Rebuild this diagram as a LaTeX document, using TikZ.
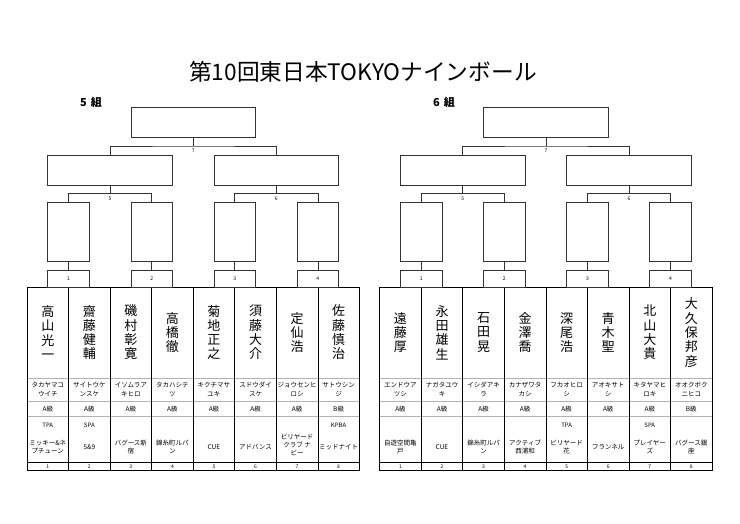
\documentclass[tikz,border=0pt]{standalone}
\usepackage{fontspec}
\setmainfont{Noto Sans CJK JP}
\begin{document}
\begin{tikzpicture}[x=1pt,y=-1pt,
  conn/.style={draw=black!80,line width=0.7pt},
  boxA/.style={draw=black!80,line width=0.7pt,inner sep=0pt,minimum width=124.65pt,minimum height=30pt},
  boxB/.style={draw=black!80,line width=0.7pt,inner sep=0pt,minimum width=41.55pt,minimum height=59.4pt},
  numbox/.style={draw=black!80,line width=0.7pt,inner sep=0pt,minimum width=41.55pt,minimum height=17.4pt,font=\fontsize{5}{6}\selectfont},
  lbl/.style={inner sep=0pt,font=\fontsize{5}{6}\selectfont},
  grp/.style={inner sep=0pt,anchor=west,font=\fontsize{11}{12}\selectfont\bfseries},
  namef/.style={inner sep=0pt,align=center,font=\fontsize{13}{14.3}\selectfont},
  kanaf/.style={inner sep=0pt,align=center,font=\fontsize{6.5}{8.5}\selectfont},
  clsf/.style={inner sep=0pt,font=\fontsize{6.5}{8}\selectfont},
  afff/.style={inner sep=0pt,font=\fontsize{6}{8}\selectfont},
  clubf/.style={inner sep=0pt,align=center,font=\fontsize{6.5}{8}\selectfont},
  numf/.style={inner sep=0pt,font=\fontsize{5}{6}\selectfont},
  rowline/.style={draw=black!30,line width=0.5pt},
  tabline/.style={draw=black,line width=0.7pt}]
\useasboundingbox[fill=white] (0,0) rectangle (740,523);
\node (title) at (363,72) {\fontsize{22.7}{26}\selectfont 第10回東日本TOKYOナインボール};
\node[grp] (lab5) at (80,102) {5\hspace{4pt}組};
\node[grp] (lab6) at (433,102) {6\hspace{4pt}組};
\foreach \g/\dx in {5/0,6/352.7}{
  \pgfmathsetmacro\xo{27+\dx}
  % table grid
  \foreach \yy in {378,401,416}{
    \draw[rowline] (\xo,\yy) -- (\xo+332.4,\yy);
  }
  \draw[tabline] (\xo,462) -- (\xo+332.4,462);
  \foreach \k in {1,...,7}{
    \draw[tabline] (\xo+\k*41.55,287.3) -- (\xo+\k*41.55,470);
  }
  \draw[tabline] (\xo,287.3) rectangle (\xo+332.4,470);
  % bracket boxes
  \node[boxA] (g\g T) at (\xo+4*41.55,122.7) {};
  \node[boxA] (g\g A) at (\xo+2*41.55,170) {};
  \node[boxA] (g\g B) at (\xo+6*41.55,170) {};
  \foreach \k/\b in {1/1,2/3,3/5,4/7}{
    \node[boxB] (g\g L\k) at (\xo+\b*41.55,232) {};
    \node[numbox] (g\g N\k) at (\xo+\b*41.55,278.6) {\k};
    \draw[conn] (g\g L\k.south) -- (g\g N\k.north);
  }
  \coordinate (g\g J7) at (\xo+4*41.55,146);
  \coordinate (g\g J5) at (\xo+2*41.55,193.3);
  \coordinate (g\g J6) at (\xo+6*41.55,193.3);
  \draw[conn] (g\g T.south) -- (g\g J7);
  \draw[conn] (g\g A.north) |- (g\g J7) -| (g\g B.north);
  \draw[conn] (g\g A.south) -- (g\g J5);
  \draw[conn] (g\g L1.north) |- (g\g J5) -| (g\g L2.north);
  \draw[conn] (g\g B.south) -- (g\g J6);
  \draw[conn] (g\g L3.north) |- (g\g J6) -| (g\g L4.north);
  \node[lbl] (g\g m7) at (\xo+4*41.55,151) {7};
  \node[lbl] (g\g m5) at (\xo+2*41.55,198.3) {5};
  \node[lbl] (g\g m6) at (\xo+6*41.55,198.3) {6};
}
% players group 5
\foreach \i/\nm/\kn/\cl/\af/\cb/\cy in {
  1/{高\\山\\光\\一}/{タカヤマコ\\ウイチ}/A級/TPA/{ミッキー\&ネ\\プチューン}/447,
  2/{齋\\藤\\健\\輔}/{サイトウケ\\ンスケ}/A級/SPA/{5\&9}/447,
  3/{磯\\村\\彰\\寛}/{イソムラア\\キヒロ}/A級/{}/{バグース新\\宿}/447,
  4/{高\\橋\\徹}/{タカハシテ\\ツ}/A級/{}/{錦糸町ルパ\\ン}/447,
  5/{菊\\地\\正\\之}/{キクチマサ\\ユキ}/A級/{}/{CUE}/447,
  6/{須\\藤\\大\\介}/{スドウダイ\\スケ}/A級/{}/{アドバンス}/447,
  7/{定\\仙\\浩}/{ジョウセンヒ\\ロシ}/A級/{}/{ビリヤード\\クラブ ナ\\ビー}/445,
  8/{佐\\藤\\慎\\治}/{サトウシン\\ジ}/B級/KPBA/{ミッドナイト}/447}{
  \pgfmathsetmacro\xc{27+(\i-0.5)*41.55}
  \node[namef] (p5n\i) at (\xc,332.5) {\nm};
  \node[kanaf] (p5k\i) at (\xc,389.5) {\kn};
  \node[clsf] (p5c\i) at (\xc,409) {\cl};
  \node[afff] (p5a\i) at (\xc,425) {\af};
  \node[clubf] (p5b\i) at (\xc,\cy) {\cb};
  \node[numf] (p5x\i) at (\xc,466.3) {\i};
}
% players group 6
\foreach \i/\nm/\kn/\cl/\af/\cb/\cy in {
  1/{遠\\藤\\厚}/{エンドウア\\ツシ}/A級/{}/{自遊空間亀\\戸}/447,
  2/{永\\田\\雄\\生}/{ナガタユウ\\キ}/A級/{}/{CUE}/447,
  3/{石\\田\\晃}/{イシダアキ\\ラ}/A級/{}/{錦糸町ルパ\\ン}/447,
  4/{金\\澤\\喬}/{カナザワタ\\カシ}/A級/{}/{アクティブ\\西浦和}/447,
  5/{深\\尾\\浩}/{フカオヒロ\\シ}/A級/TPA/{ビリヤード\\花}/447,
  6/{青\\木\\聖}/{アオキサト\\シ}/A級/{}/{フランネル}/447,
  7/{北\\山\\大\\貴}/{キタヤマヒ\\ロキ}/A級/SPA/{プレイヤー\\ズ}/447,
  8/{大\\久\\保\\邦\\彦}/{オオクボク\\ニヒコ}/B級/{}/{バグース銀\\座}/447}{
  \pgfmathsetmacro\xc{379.7+(\i-0.5)*41.55}
  \node[namef] (p6n\i) at (\xc,332.5) {\nm};
  \node[kanaf] (p6k\i) at (\xc,389.5) {\kn};
  \node[clsf] (p6c\i) at (\xc,409) {\cl};
  \node[afff] (p6a\i) at (\xc,425) {\af};
  \node[clubf] (p6b\i) at (\xc,\cy) {\cb};
  \node[numf] (p6x\i) at (\xc,466.3) {\i};
}
\end{tikzpicture}
\end{document}
